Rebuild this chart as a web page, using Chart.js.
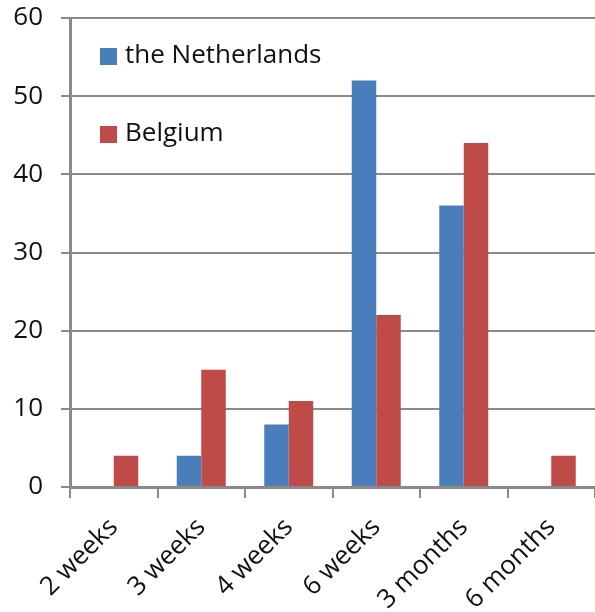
<!DOCTYPE html>
<html lang="en">
<head>
  <meta charset="UTF-8">
  <title>Netherlands vs Belgium</title>
  <script src="https://cdn.jsdelivr.net/npm/chart.js"></script>
  <style>
    html, body { margin: 0; padding: 0; background: #ffffff; overflow: hidden; }
    .chart-container { position: relative; width: 595px; height: 612px; }
  </style>
</head>
<body>
  <div class="chart-container">
    <canvas id="barChart" width="595" height="612"></canvas>
  </div>

  <script>
    const categories = ['2 weeks', '3 weeks', '4 weeks', '6 weeks', '3 months', '6 months'];
    const netherlands = [0, 4, 8, 52, 36, 0];
    const belgium = [4, 15, 11, 22, 44, 4];
    const yMin = 0;
    const yMax = 60;
    const yStep = 10;

    const FONT = '"Open Sans", "DejaVu Sans", sans-serif';
    const gridColor = '#8a8a8a';

    // legend drawn inside the plot area, stacked vertically
    const innerLegend = {
      id: 'innerLegend',
      afterDraw(chart) {
        const ctx = chart.ctx;
        const rows = [56, 134];
        ctx.save();
        ctx.font = '26px ' + FONT;
        ctx.textBaseline = 'middle';
        ctx.textAlign = 'left';
        chart.data.datasets.forEach((ds, i) => {
          const y = rows[i];
          ctx.fillStyle = ds.backgroundColor;
          ctx.fillRect(100, y - 8, 17, 17);
          ctx.fillStyle = '#111';
          ctx.fillText(ds.label, 125, y);
        });
        ctx.restore();
      }
    };

    const ctx = document.getElementById('barChart').getContext('2d');
    new Chart(ctx, {
      type: 'bar',
      data: {
        labels: categories,
        datasets: [
          { label: 'the Netherlands', data: netherlands, backgroundColor: '#4a7ebb' },
          { label: 'Belgium', data: belgium, backgroundColor: '#be4b48' }
        ]
      },
      options: {
        responsive: false,
        maintainAspectRatio: false,
        animation: false,
        layout: { padding: { top: 18, right: 0, left: 0, bottom: 0 } },
        datasets: {
          bar: { categoryPercentage: 0.56, barPercentage: 1.0 }
        },
        plugins: {
          legend: { display: false },
          tooltip: { enabled: false }
        },
        scales: {
          x: {
            grid: {
              display: true,
              drawOnChartArea: false,
              drawTicks: true,
              tickLength: 11,
              offset: true,
              color: gridColor,
              lineWidth: 2
            },
            border: { display: true, color: gridColor, width: 3 },
            ticks: {
              minRotation: 45,
              maxRotation: 45,
              padding: 14,
              color: '#111',
              font: { family: FONT, size: 26 }
            },
            afterFit(scale) { scale.height = 125; }
          },
          y: {
            min: yMin,
            max: yMax,
            grid: {
              color: gridColor,
              lineWidth: 2,
              drawTicks: true,
              tickLength: 9
            },
            border: { display: true, color: gridColor, width: 3 },
            ticks: {
              stepSize: yStep,
              padding: 18,
              color: '#111',
              font: { family: FONT, size: 26 }
            },
            afterFit(scale) {
              scale.width = 70;
              scale.paddingTop = 0;
              scale.paddingBottom = 0;
            }
          }
        }
      },
      plugins: [innerLegend]
    });
  </script>
</body>
</html>
